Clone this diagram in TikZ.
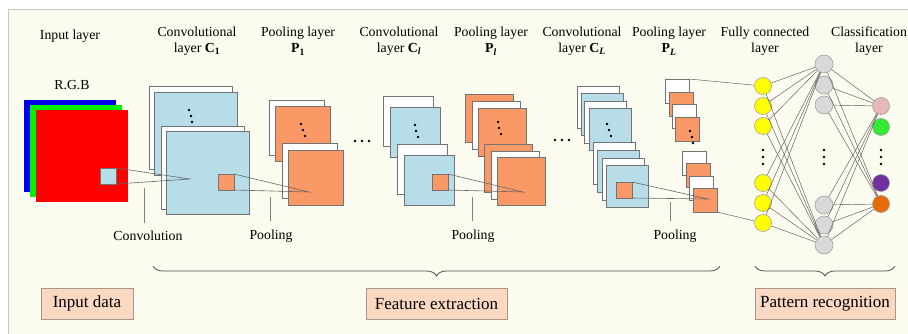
\documentclass[tikz,border=0pt]{standalone}
\usepackage{fontspec}
\setmainfont{Liberation Serif}
\usepackage{xcolor}
\usepackage{tikz}
\usetikzlibrary{positioning,decorations.pathreplacing,calc}

\definecolor{cream}{RGB}{252,251,240}
\definecolor{convblue}{RGB}{183,221,232}
\definecolor{poolorange}{RGB}{251,153,102}
\definecolor{peach}{RGB}{251,216,194}
\definecolor{stageline}{RGB}{168,150,140}
\definecolor{rgbblue}{RGB}{0,0,235}
\definecolor{rgbgreen}{RGB}{0,240,0}
\definecolor{rgbred}{RGB}{255,0,0}
\definecolor{fcyellow}{RGB}{255,255,0}
\definecolor{hidgray}{RGB}{217,217,217}
\definecolor{clpink}{RGB}{230,185,184}
\definecolor{clgreen}{RGB}{51,235,51}
\definecolor{clpurple}{RGB}{112,48,160}
\definecolor{clorange}{RGB}{227,108,9}

\begin{document}
\begin{tikzpicture}[x=1pt, y=-1pt,
    fmap/.style={rectangle, draw=black!55, line width=0.6pt, anchor=north west, inner sep=0pt, outer sep=0pt, minimum size=#1},
    blank/.style={fmap=#1, fill=white},
    conv/.style={fmap=#1, fill=convblue},
    pool/.style={fmap=#1, fill=poolorange},
    chan/.style={rectangle, anchor=north west, inner sep=0pt, minimum size=92},
    funnel/.style={draw=black!60, line width=0.6pt},
    neuron/.style={circle, draw=black!40, line width=0.5pt, inner sep=0pt, minimum size=#1},
    link/.style={draw=black!65, line width=0.45pt},
    lbl/.style={align=center, font=\fontsize{13.8}{16.5}\selectfont},
    tick/.style={draw=black!50, line width=0.6pt, shorten >=5pt},
    stage/.style={rectangle, draw=stageline, fill=peach, line width=0.7pt, minimum height=31, font=\fontsize{17}{20}\selectfont},
    brace/.style={decorate, decoration={brace, mirror, amplitude=10pt}, draw=black!70, line width=0.8pt}
]

\useasboundingbox (0,0) rectangle (908,334);
\clip (0,0) rectangle (908,334);
\fill[white] (0,0) rectangle (908,334);
\draw[draw=black!22, fill=cream, line width=0.8pt] (8,9) rectangle (930,350);

% layer titles
\node[lbl] (inlbl) at (70,36) {Input layer};
\node[lbl] (c1lbl) at (197,41) {Convolutional\\layer \textbf{C}\textsubscript{\textbf{1}}};
\node[lbl] (p1lbl) at (298,41) {Pooling layer\\\textbf{P}\textsubscript{\textbf{1}}};
\node[lbl] (cllbl) at (399,41) {Convolutional\\layer \textbf{C}\textsubscript{\textbf{\textit{l}}}};
\node[lbl] (pllbl) at (491,41) {Pooling layer\\\textbf{P}\textsubscript{\textbf{\textit{l}}}};
\node[lbl] (cLlbl) at (582,41) {Convolutional\\layer \textbf{C}\textsubscript{\textbf{\textit{L}}}};
\node[lbl] (pLlbl) at (669,41) {Pooling layer\\\textbf{P}\textsubscript{\textbf{\textit{L}}}};
\node[lbl] (fclbl) at (765,41) {Fully connected\\layer};
\node[lbl] (cslbl) at (869,41) {Classification\\layer};
\node[lbl] (rgblbl) at (72,85) {R.G.B};

% input image
\node[chan, fill=rgbblue] (chB) at (24,100) {};
\node[chan, fill=rgbgreen] (chG) at (30,105) {};
\node[chan, fill=rgbred] (chR) at (36,110) {};
\node[conv=16] (inwin) at (100,168) {};

% convolutional layer C1
\node[blank=83] (c1w1) at (149,86) {};
\node[conv=83] (c1b1) at (154,92) {};
\node[blank=83] (c1w2) at (161,126) {};
\node[conv=83] (c1b2) at (166,131) {};
\coordinate (c1in) at (190,179);
\draw[funnel] (inwin.north east) -- (c1in) -- (inwin.south east);
\node[pool=16] (c1win) at (218,174) {};

% pooling layer P1
\node[blank=55] (p1w1) at (269,100) {};
\node[pool=55] (p1o1) at (275,106) {};
\node[blank=55] (p1w2) at (282,143) {};
\node[pool=55] (p1o2) at (288,150) {};
\coordinate (p1in) at (309,192);
\draw[funnel] (c1win.north east) -- (p1in) -- (c1win.south east);

% convolutional layer Cl
\node[blank=50] (clw1) at (383,96) {};
\node[conv=50] (clb1) at (390,107) {};
\node[blank=50] (clw2) at (397,144) {};
\node[conv=50] (clb2) at (404,155) {};
\node[pool=16] (clwin) at (432,174) {};

% pooling layer Pl
\node[pool=48] (plo1) at (465,94) {};
\node[blank=48] (plw1) at (472,101) {};
\node[pool=48] (plo2) at (478,108) {};
\node[pool=48] (plo3) at (484,144) {};
\node[blank=48] (plw2) at (491,151) {};
\node[pool=48] (plo4) at (497,157) {};
\coordinate (plin) at (523,192);
\draw[funnel] (clwin.north east) -- (plin) -- (clwin.south east);

% convolutional layer CL
\node[blank=42] (cLw1) at (577,86) {};
\node[conv=42] (cLb1) at (581,93) {};
\node[blank=42] (cLw2) at (584,101) {};
\node[conv=42] (cLb2) at (589,108) {};
\node[blank=42] (cLw3) at (593,142) {};
\node[conv=42] (cLb3) at (597,150) {};
\node[blank=42] (cLw4) at (602,158) {};
\node[conv=42] (cLb4) at (606,165) {};
\node[pool=16] (cLwin) at (616,182) {};

% pooling layer PL
\node[blank=24] (pLw1) at (665,79) {};
\node[pool=24] (pLo1) at (669,92) {};
\node[blank=24] (pLw2) at (672,104) {};
\node[pool=24] (pLo2) at (675,117) {};
\node[blank=24] (pLw3) at (682,151) {};
\node[pool=24] (pLo3) at (686,163) {};
\node[blank=24] (pLw4) at (689,176) {};
\node[pool=24] (pLo4) at (693,188) {};
\coordinate (pLin) at (708,199);
\draw[funnel] (cLwin.north east) -- (pLin) -- (cLwin.south east);

% dots
\foreach \px/\py in {189/110,191/116,192/122, 301/124,303/130,305/136,
    415/125,416/131,418/137, 498/122,499/128,501/134,
    607/124,609/130,611/136, 690/131,692/137,693/143,
    355/141,362/141,369/141, 555/140,562/140,569/140,
    763/150,763/157,763/164, 824/150,824/157,824/164, 881/150,881/157,881/164}
  \fill (\px,\py) circle (1.3pt);

% fully connected and classification layers
\foreach \i/\yy in {1/86,2/106,3/126,4/183,5/203,6/223}
  \node[neuron=17, fill=fcyellow] (f\i) at (763,\yy) {};
\foreach \i/\yy in {1/64,2/85,3/105,4/205,5/225,6/245}
  \node[neuron=18, fill=hidgray] (h\i) at (824,\yy) {};
\node[neuron=17, fill=clpink] (out1) at (881,106) {};
\node[neuron=17, fill=clgreen] (out2) at (881,127) {};
\node[neuron=17, fill=clpurple] (out3) at (881,183) {};
\node[neuron=17, fill=clorange] (out4) at (881,204) {};

\foreach \i in {1,...,6} {
  \draw[link] (f\i) -- (h1);
  \draw[link] (f\i) -- (h6);
  \draw[link] (h\i) -- (out1);
  \draw[link] (h\i) -- (out4);
}
\draw[link] (pLw1.north east) -- (f1);
\draw[link] (pLo4.south east) -- (f6);

% operations
\node[lbl] (convop) at (148,236) {Convolution};
\node[lbl] (poolop1) at (271,236) {Pooling};
\node[lbl] (poolop2) at (473,236) {Pooling};
\node[lbl] (poolop3) at (675,236) {Pooling};
\coordinate (t1) at (144,188);
\coordinate (t2) at (270,197);
\coordinate (t3) at (472,197);
\coordinate (t4) at (670,202);
\draw[tick] (t1) -- (t1 |- convop.north);
\draw[tick] (t2) -- (t2 |- poolop1.north);
\draw[tick] (t3) -- (t3 |- poolop2.north);
\draw[tick] (t4) -- (t4 |- poolop3.north);

% stages
\draw[brace] (153,266) -- (720,266);
\draw[brace] (755,266) -- (895,266);
\node[stage, minimum width=92] (indata) at (87,303.5) {Input data};
\node[stage, minimum width=141] (featx) at (436.5,303.5) {Feature extraction};
\node[stage, minimum width=140] (patrec) at (825,303.5) {Pattern recognition};

\end{tikzpicture}
\end{document}
